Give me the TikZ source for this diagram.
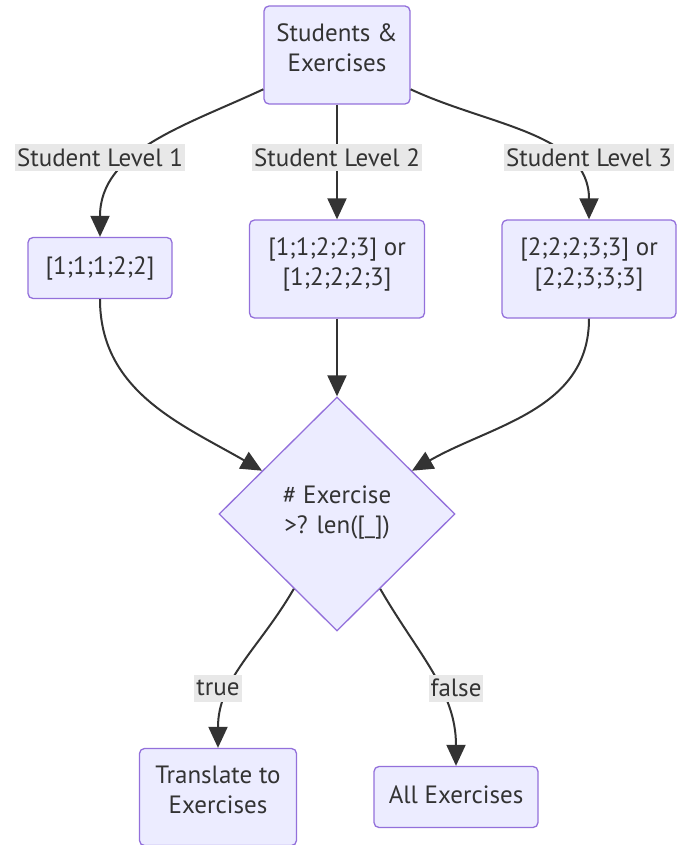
\documentclass[tikz,border=0pt]{standalone}
\usepackage{fontspec}
\setmainfont{PT Sans}
\usetikzlibrary{shapes.geometric,arrows.meta}
\definecolor{nodefill}{HTML}{ECECFF}
\definecolor{nodeline}{HTML}{9370DB}
\definecolor{ink}{HTML}{333333}
\definecolor{lblbg}{HTML}{E8E8E8}
\newcommand{\liftby}[1]{\rule[-#1]{0pt}{#1}}
\tikzset{
  txt/.style={text=ink,font=\fontsize{25}{30}\selectfont,align=center},
  box/.style={txt,draw=nodeline,fill=nodefill,line width=1.3pt,rounded corners=5pt,inner sep=2pt},
  decision/.style={txt,diamond,draw=nodeline,fill=nodefill,line width=1.3pt,inner sep=0pt},
  lbl/.style={txt,fill=lblbg,inner sep=2pt,minimum height=27pt},
  flow/.style={draw=ink,line width=2pt,-{Triangle[length=21pt,width=19pt]}}
}
\begin{document}
\begin{tikzpicture}[x=1pt,y=1pt]
  \useasboundingbox (0,0) rectangle (678,-845);

  % boxes
  \node[box,minimum width=146pt,minimum height=98pt] (start) at (337,-55) {Students \&\\Exercises\liftby{14pt}};
  \node[box,minimum width=144pt,minimum height=61pt] (lvone) at (100,-268) {[1;1;1;2;2]\liftby{4pt}};
  \node[box,minimum width=175pt,minimum height=98pt] (lvtwo) at (337,-269) {[1;1;2;2;3] or\\{}[1;2;2;2;3]\liftby{14pt}};
  \node[box,minimum width=174pt,minimum height=98pt] (lvthree) at (589,-269) {[2;2;2;3;3] or\\{}[2;2;3;3;3]\liftby{14pt}};
  \node[decision,minimum width=236pt,minimum height=234pt] (check) at (337,-514) {\# Exercise\\>? len([\_])\liftby{8pt}};
  \node[box,minimum width=157pt,minimum height=97pt] (translate) at (218,-797) {Translate to\\Exercises\liftby{14pt}};
  \node[box,minimum width=164pt,minimum height=61pt] (allex) at (456,-797) {All Exercises\liftby{4pt}};

  % connectors
  \draw[flow] (start) to[out=205,in=90] (lvone);
  \draw[flow] (start) -- (lvtwo);
  \draw[flow] (start) to[out=-25,in=90] (lvthree);
  \draw[flow] (lvone) to[out=-90,in=150] (check);
  \draw[flow] (lvtwo) -- (check);
  \draw[flow] (lvthree) to[out=-90,in=30] (check);
  \draw[flow] (check) to[out=-120,in=90] (translate);
  \draw[flow] (check) to[out=-60,in=90] (allex);

  % edge labels
  \node[lbl] (slone) at (100,-158) {Student Level 1};
  \node[lbl] (sltwo) at (337,-158) {Student Level 2};
  \node[lbl] (slthree) at (589,-158) {Student Level 3};
  \node[lbl] (yes) at (218,-688) {true};
  \node[lbl] (no) at (456,-688) {false};
\end{tikzpicture}
\end{document}
